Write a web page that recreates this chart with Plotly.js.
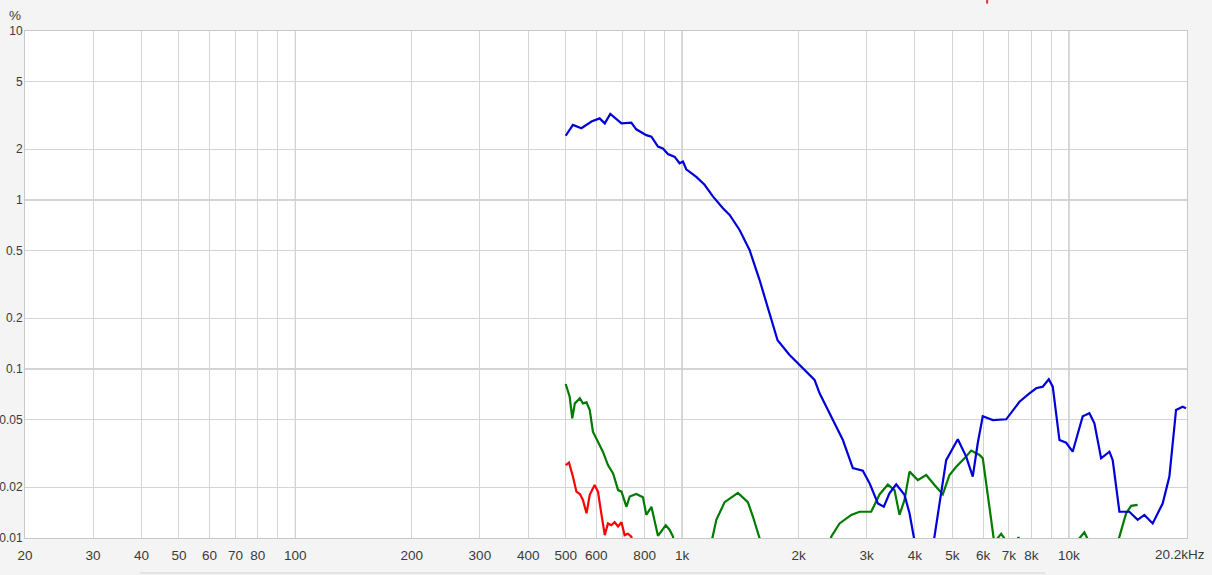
<!DOCTYPE html>
<html>
<head>
<meta charset="utf-8">
<script src="https://cdn.plot.ly/plotly-3.0.1.min.js"></script>
<style>
html,body{margin:0;padding:0;background:#f4f4f4;}
#chart{width:1212px;height:575px;}
</style>
</head>
<body>
<div id="chart"></div>
<script>
// Frequencies (Hz) and distortion values (%)
const blueF = [500,522,549,583,612,631,652,697,739,761,808,833,866,892,919,957,985,1005,1025,1088,1143,1201,1275,1327,1408,1494,1586,1684,1765,1896,2012,2200,2267,2453,2604,2763,2932,3052,3207,3323,3436,3577,3758,3872,3972,4012,4200,4420,4493,4629,4816,5161,5425,5642,5813,5988,6357,6885,7451,7906,8229,8559,8871,9084,9453,9838,10228,10858,11298,11641,12114,12727,12979,13509,14336,15058,15672,16466,17474,18188,18925,19680,20085];
const blueV = [2.40,2.78,2.66,2.91,3.04,2.84,3.23,2.84,2.87,2.62,2.42,2.37,2.07,2.02,1.87,1.80,1.65,1.69,1.52,1.37,1.23,1.05,0.893,0.815,0.665,0.506,0.336,0.209,0.148,0.121,0.106,0.0861,0.0718,0.0499,0.0380,0.0259,0.0250,0.0211,0.0160,0.0153,0.0184,0.0208,0.0180,0.0140,0.0102,0.009,0.005,0.008,0.0102,0.0168,0.0289,0.0384,0.0303,0.0231,0.0365,0.0525,0.0499,0.0504,0.0640,0.0718,0.0769,0.0786,0.0869,0.0786,0.0380,0.0366,0.0324,0.0525,0.0547,0.0477,0.0296,0.0324,0.0289,0.0143,0.0143,0.0128,0.0137,0.0122,0.0160,0.0231,0.0572,0.0598,0.0586];

const greenF = [500,512,520,528,544,554,566,577,588,606,624,643,663,683,697,718,732,761,792,808,833,866,907,928,947,962,1050,1150,1197,1226,1288,1394,1479,1524,1586,1600,2000,2400,2430,2553,2737,2875,3082,3239,3403,3541,3648,3758,3872,4068,4276,4493,4720,4913,5113,5371,5589,5873,5988,6230,6357,6450,6536,6681,6813,6950,7300,7406,7500,9000,10642,10964,11162,12500,13509,14060,14484,15058];
const greenV = [0.0815,0.0686,0.0511,0.0626,0.0671,0.0626,0.0635,0.0572,0.0426,0.0371,0.0324,0.0270,0.0241,0.0192,0.0188,0.0153,0.0176,0.0182,0.0174,0.0137,0.0153,0.0103,0.0119,0.0112,0.0102,0.008,0.004,0.005,0.00996,0.0128,0.0163,0.0185,0.0163,0.0134,0.00996,0.008,0.004,0.008,0.0102,0.0122,0.0137,0.0143,0.0143,0.0181,0.0207,0.0192,0.0137,0.0168,0.0247,0.0220,0.0236,0.0206,0.0181,0.0236,0.0264,0.0296,0.0329,0.0310,0.0296,0.0153,0.0102,0.0085,0.00995,0.0106,0.00995,0.0085,0.0095,0.0101,0.0095,0.005,0.00995,0.0108,0.00995,0.006,0.0102,0.0140,0.0155,0.0157];

const redF = [500,510,522,533,544,554,566,577,594,606,618,631,643,656,669,683,697,710,724,739,750];
const redV = [0.0270,0.0279,0.0231,0.0188,0.0182,0.0168,0.0140,0.0180,0.0206,0.0188,0.0140,0.0104,0.0122,0.0119,0.0124,0.0117,0.0124,0.0104,0.0106,0.0102,0.008];

const xTickVals = [20,30,40,50,60,70,80,90,100,200,300,400,500,600,700,800,900,1000,2000,3000,4000,5000,6000,7000,8000,9000,10000,20200];
const xTickText = ['20','30','40','50','60','70','80','','100','200','300','400','500','600','','800','','1k','2k','3k','4k','5k','6k','7k','8k','','10k',''];
const xEndLabel = '20.2kHz';
const yTickVals = [0.01,0.02,0.05,0.1,0.2,0.5,1,2,5,10];
const yTickText = ['0.01','0.02','0.05','0.1','0.2','0.5','1','2','5','10'];
const xMajor = [100,1000,10000];
const yMajor = [0.1,1];

const traces = [
  {x: greenF, y: greenV, mode:'lines', line:{color:'#007a00', width:2.2}, hoverinfo:'skip'},
  {x: redF, y: redV, mode:'lines', line:{color:'#ff0000', width:2.2}, hoverinfo:'skip'},
  {x: blueF, y: blueV, mode:'lines', line:{color:'#0000d8', width:2.2}, hoverinfo:'skip'}
];

const shapes = [];
xMajor.forEach(v => shapes.push({type:'line', xref:'x', yref:'paper', x0:v, x1:v, y0:0, y1:1, line:{color:'#a0a0a0', width:1}, layer:'below'}));
yMajor.forEach(v => shapes.push({type:'line', xref:'paper', yref:'y', x0:0, x1:1, y0:v, y1:v, line:{color:'#a8a8a8', width:1}, layer:'below'}));
shapes.push({type:'line', xref:'paper', yref:'paper', x0:0.099, x1:0.878, y0:-0.069, y1:-0.069, line:{color:'#d4d4d4', width:1}});
shapes.push({type:'line', xref:'paper', yref:'paper', x0:0.828, x1:0.828, y0:1.054, y1:1.062, line:{color:'#e03030', width:2}});

const fontFam = '"Liberation Sans", Arial, sans-serif';
const layout = {
  width:1212, height:575,
  margin:{l:25, r:25, t:31, b:37, pad:0},
  paper_bgcolor:'#f4f4f4',
  plot_bgcolor:'#ffffff',
  showlegend:false,
  font:{family:fontFam, size:13, color:'#3a3a3a'},
  xaxis:{
    type:'log', range:[Math.log10(20), Math.log10(20200)],
    tickmode:'array', tickvals:xTickVals, ticktext:xTickText,
    showgrid:true, gridcolor:'#d4d4d4', gridwidth:1,
    zeroline:false, ticks:'', showline:true, linecolor:'#c8c8c8', mirror:true,
    tickfont:{size:13.5, color:'#3a3a3a'}, ticklabelstandoff:5
  },
  yaxis:{
    type:'log', range:[-2, 1],
    tickmode:'array', tickvals:yTickVals, ticktext:yTickText,
    showgrid:true, gridcolor:'#d4d4d4', gridwidth:1,
    zeroline:false, ticks:'', showline:true, linecolor:'#c8c8c8', mirror:true,
    tickfont:{size:12, color:'#3a3a3a'}, ticklabelstandoff:-1
  },
  shapes: shapes,
  annotations:[
    {text:'%', xref:'paper', yref:'paper', x:-0.002, y:1.012, xanchor:'right', yanchor:'bottom', showarrow:false, font:{size:13.5, color:'#3a3a3a'}},
    {text:xEndLabel, xref:'paper', yref:'paper', x:1.017, y:-0.014, xanchor:'right', yanchor:'top', showarrow:false, font:{size:13.5, color:'#3a3a3a'}}
  ]
};

Plotly.newPlot('chart', traces, layout, {staticPlot:true, displayModeBar:false});
</script>
</body>
</html>
